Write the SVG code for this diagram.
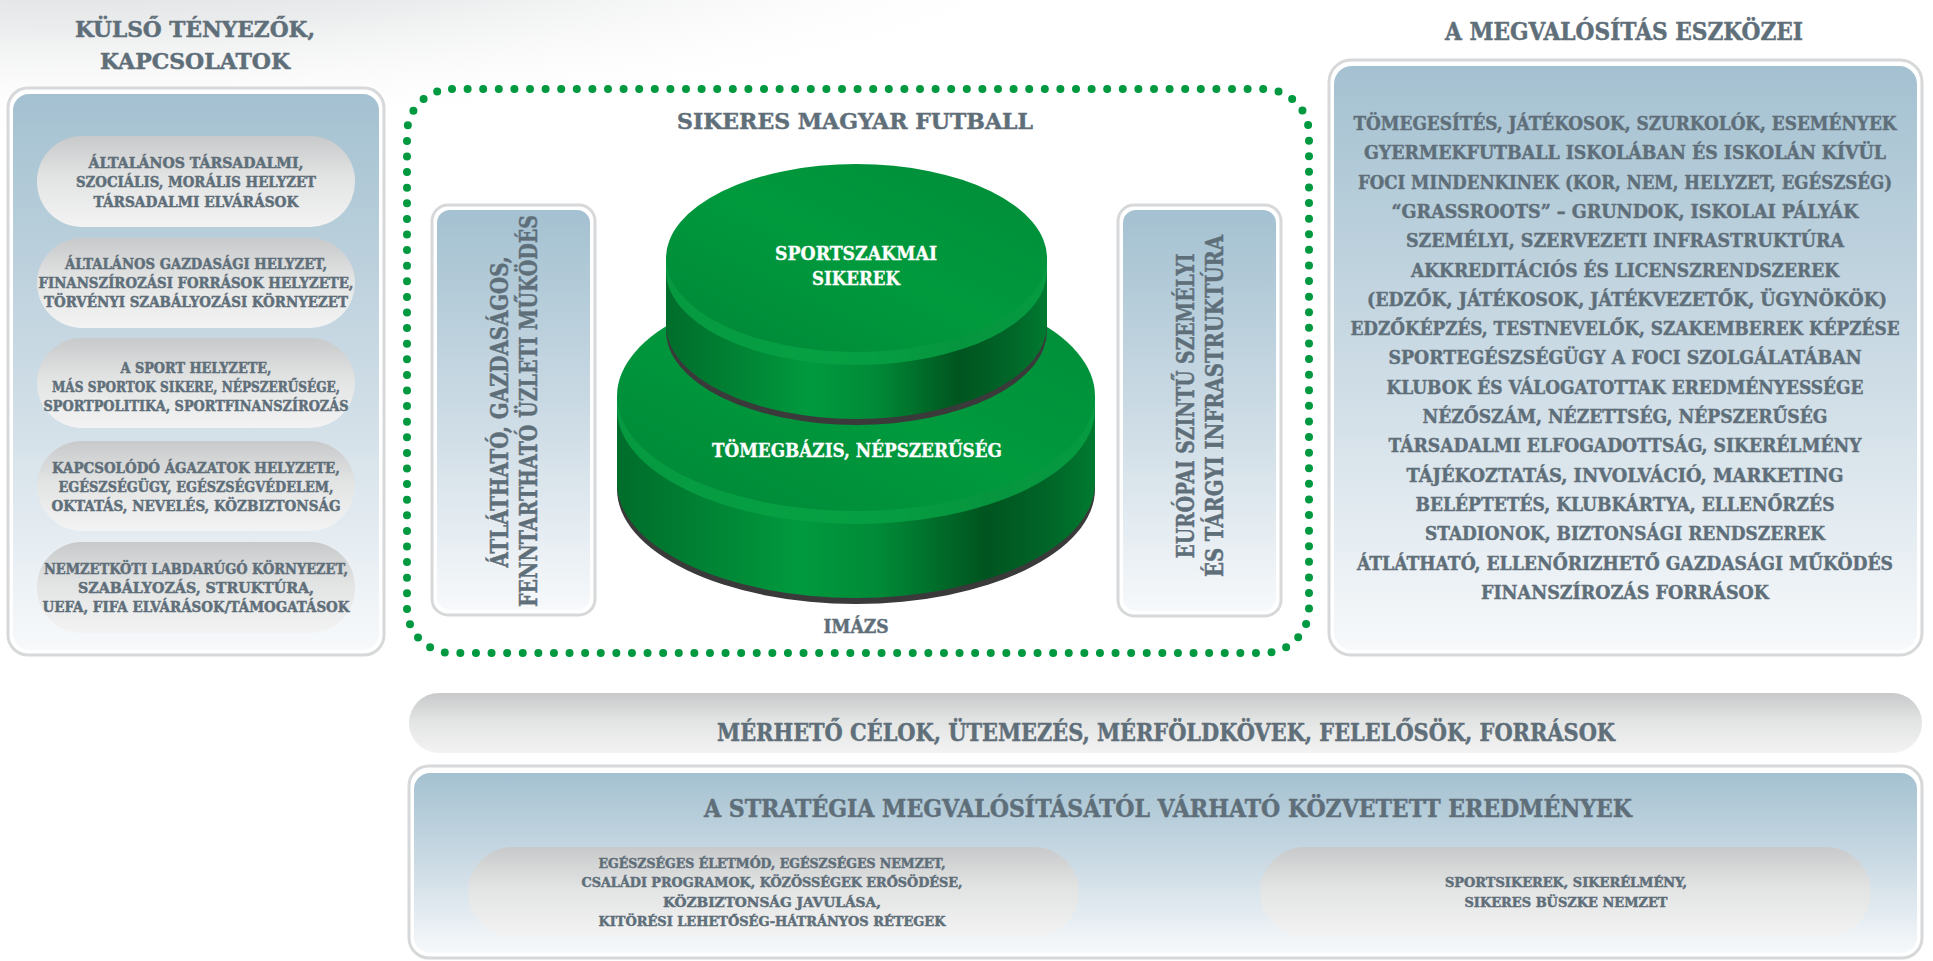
<svg xmlns="http://www.w3.org/2000/svg" width="1933" height="961" viewBox="0 0 1933 961">
<style>
.t{font-family:"DejaVu Serif Condensed","DejaVu Serif","Liberation Serif",serif;font-weight:bold;font-stretch:condensed;fill:#5f6f7a;stroke:#5f6f7a;stroke-width:0.45;text-anchor:middle}
.w{fill:#ffffff;stroke:#ffffff;stroke-width:0.3}
.rim{fill:#ffffff;stroke:#d6d8d9;stroke-width:3}
.panel{fill:url(#gPanel)}
.pill{fill:url(#gPill)}
.shadow{fill:#3a3a3a}
.band{fill:#07a144}
</style>
<defs>
<linearGradient id="gPanel" x1="0" y1="0" x2="0" y2="1">
<stop offset="0" stop-color="#a4c1d1"/>
<stop offset="0.55" stop-color="#cfdde6"/>
<stop offset="1" stop-color="#f7f9fb"/>
</linearGradient>
<linearGradient id="gPill" x1="0" y1="0" x2="0" y2="1">
<stop offset="0" stop-color="#c8c9ca"/>
<stop offset="0.45" stop-color="#e2e3e3"/>
<stop offset="1" stop-color="#f3f3f3"/>
</linearGradient>
<radialGradient id="gHaze" cx="0.3" cy="0.15" r="0.7">
<stop offset="0" stop-color="#c9cccf" stop-opacity="0.9"/>
<stop offset="0.5" stop-color="#dfe1e2" stop-opacity="0.6"/>
<stop offset="1" stop-color="#ffffff" stop-opacity="0"/>
</radialGradient>
<linearGradient id="gTop" x1="0" y1="1" x2="1" y2="0">
<stop offset="0" stop-color="#008637"/>
<stop offset="0.5" stop-color="#009a3d"/>
<stop offset="1" stop-color="#008c39"/>
</linearGradient>
<linearGradient id="gSide1" gradientUnits="userSpaceOnUse" x1="617" y1="0" x2="1095" y2="0">
<stop offset="0" stop-color="#006d2b"/>
<stop offset="0.15" stop-color="#007e32"/>
<stop offset="0.38" stop-color="#009a3e"/>
<stop offset="0.55" stop-color="#008a37"/>
<stop offset="0.77" stop-color="#00541f"/>
<stop offset="0.9" stop-color="#006528"/>
<stop offset="1" stop-color="#007a30"/>
</linearGradient>
<linearGradient id="gSide2" gradientUnits="userSpaceOnUse" x1="666" y1="0" x2="1047" y2="0">
<stop offset="0" stop-color="#006d2b"/>
<stop offset="0.15" stop-color="#007e32"/>
<stop offset="0.38" stop-color="#009a3e"/>
<stop offset="0.55" stop-color="#008a37"/>
<stop offset="0.77" stop-color="#00541f"/>
<stop offset="0.9" stop-color="#006528"/>
<stop offset="1" stop-color="#007a30"/>
</linearGradient>
</defs>

<rect x="0" y="0" width="1933" height="961" fill="#ffffff"/>
<ellipse cx="380" cy="30" rx="760" ry="150" fill="url(#gHaze)"/>

<!-- Left panel: external factors -->
<g id="kulso-tenyezok">
<text class="t" x="195" y="37" font-size="22" textLength="240" lengthAdjust="spacingAndGlyphs">KÜLSŐ TÉNYEZŐK,</text>
<text class="t" x="195" y="69" font-size="22" textLength="190" lengthAdjust="spacingAndGlyphs">KAPCSOLATOK</text>
<rect class="rim" x="8" y="88" width="376" height="567" rx="20"/>
<rect class="panel" x="13" y="94" width="366" height="556" rx="16"/>
</g>
<g id="k1">
<rect class="pill" x="37" y="136" width="318" height="91" rx="45"/>
<text class="t" x="196" y="168" font-size="14" textLength="215" lengthAdjust="spacingAndGlyphs">ÁLTALÁNOS TÁRSADALMI,</text>
<text class="t" x="196" y="187" font-size="14" textLength="240" lengthAdjust="spacingAndGlyphs">SZOCIÁLIS, MORÁLIS HELYZET</text>
<text class="t" x="196" y="207" font-size="14" textLength="205" lengthAdjust="spacingAndGlyphs">TÁRSADALMI ELVÁRÁSOK</text>
</g>
<g id="k2">
<rect class="pill" x="37" y="238" width="318" height="90" rx="45"/>
<text class="t" x="196" y="269" font-size="14" textLength="262" lengthAdjust="spacingAndGlyphs">ÁLTALÁNOS GAZDASÁGI HELYZET,</text>
<text class="t" x="196" y="288" font-size="14" textLength="315" lengthAdjust="spacingAndGlyphs">FINANSZÍROZÁSI FORRÁSOK HELYZETE,</text>
<text class="t" x="196" y="307" font-size="14" textLength="304" lengthAdjust="spacingAndGlyphs">TÖRVÉNYI SZABÁLYOZÁSI KÖRNYEZET</text>
</g>
<g id="k3">
<rect class="pill" x="37" y="338" width="318" height="90" rx="45"/>
<text class="t" x="196" y="373" font-size="14" textLength="151" lengthAdjust="spacingAndGlyphs">A SPORT HELYZETE,</text>
<text class="t" x="196" y="392" font-size="14" textLength="288" lengthAdjust="spacingAndGlyphs">MÁS SPORTOK SIKERE, NÉPSZERŰSÉGE,</text>
<text class="t" x="196" y="411" font-size="14" textLength="305" lengthAdjust="spacingAndGlyphs">SPORTPOLITIKA, SPORTFINANSZÍROZÁS</text>
</g>
<g id="k4">
<rect class="pill" x="37" y="441" width="318" height="90" rx="45"/>
<text class="t" x="196" y="473" font-size="14" textLength="288" lengthAdjust="spacingAndGlyphs">KAPCSOLÓDÓ ÁGAZATOK HELYZETE,</text>
<text class="t" x="196" y="492" font-size="14" textLength="275" lengthAdjust="spacingAndGlyphs">EGÉSZSÉGÜGY, EGÉSZSÉGVÉDELEM,</text>
<text class="t" x="196" y="511" font-size="14" textLength="289" lengthAdjust="spacingAndGlyphs">OKTATÁS, NEVELÉS, KÖZBIZTONSÁG</text>
</g>
<g id="k5">
<rect class="pill" x="37" y="542" width="318" height="91" rx="45"/>
<text class="t" x="196" y="574" font-size="14" textLength="304" lengthAdjust="spacingAndGlyphs">NEMZETKÖTI LABDARÚGÓ KÖRNYEZET,</text>
<text class="t" x="196" y="593" font-size="14" textLength="236" lengthAdjust="spacingAndGlyphs">SZABÁLYOZÁS, STRUKTÚRA,</text>
<text class="t" x="196" y="612" font-size="14" textLength="307" lengthAdjust="spacingAndGlyphs">UEFA, FIFA ELVÁRÁSOK/TÁMOGATÁSOK</text>
</g>

<!-- Center: dotted frame -->
<g id="sikeres-magyar-futball">
<rect x="407" y="89" width="902" height="564" rx="45" fill="none" stroke="#00993f" stroke-width="8" stroke-linecap="round" stroke-dasharray="0 15.6"/>
<text class="t" x="855" y="129" font-size="23" textLength="356" lengthAdjust="spacingAndGlyphs">SIKERES MAGYAR FUTBALL</text>
</g>

<g id="atlathato">
<rect class="rim" x="432" y="205" width="163" height="410" rx="16"/>
<rect class="panel" x="437" y="210" width="153" height="400" rx="13"/>
<text class="t" transform="translate(508,412) rotate(-90)" x="0" y="0" font-size="24" textLength="311" lengthAdjust="spacingAndGlyphs">ÁTLÁTHATÓ, GAZDASÁGOS,</text>
<text class="t" transform="translate(537,411) rotate(-90)" x="0" y="0" font-size="24" textLength="392" lengthAdjust="spacingAndGlyphs">FENNTARTHATÓ ÜZLETI MŰKÖDÉS</text>
</g>

<g id="europai">
<rect class="rim" x="1118" y="205" width="163" height="411" rx="16"/>
<rect class="panel" x="1123" y="210" width="153" height="401" rx="13"/>
<text class="t" transform="translate(1194,406) rotate(-90)" x="0" y="0" font-size="24" textLength="305" lengthAdjust="spacingAndGlyphs">EURÓPAI SZINTŰ SZEMÉLYI</text>
<text class="t" transform="translate(1223,406) rotate(-90)" x="0" y="0" font-size="24" textLength="342" lengthAdjust="spacingAndGlyphs">ÉS TÁRGYI INFRASTRUKTÚRA</text>
</g>

<g id="tomegbazis">
<path class="shadow" d="M617,396 L617,489 A239,115 0 0 0 1095,489 L1095,396 Z"/>
<path fill="url(#gSide1)" d="M617,396 L617,483 A239,115 0 0 0 1095,483 L1095,396 Z"/>
<path class="band" d="M617,396 L617,409 A239,115 0 0 0 1095,409 L1095,396 Z" opacity="0.85"/>
<ellipse cx="856" cy="396" rx="239" ry="115" fill="url(#gTop)"/>
<text class="t w" x="857" y="457" font-size="18" textLength="290" lengthAdjust="spacingAndGlyphs">TÖMEGBÁZIS, NÉPSZERŰSÉG</text>
</g>

<g id="sportszakmai">
<path class="shadow" d="M666,258 L666,331 A190.5,94 0 0 0 1047,331 L1047,258 Z"/>
<path fill="url(#gSide2)" d="M666,258 L666,325 A190.5,94 0 0 0 1047,325 L1047,258 Z"/>
<path class="band" d="M666,258 L666,271 A190.5,94 0 0 0 1047,271 L1047,258 Z" opacity="0.85"/>
<ellipse cx="856.5" cy="258" rx="190.5" ry="94" fill="url(#gTop)"/>
<text class="t w" x="856" y="260" font-size="18" textLength="162" lengthAdjust="spacingAndGlyphs">SPORTSZAKMAI</text>
<text class="t w" x="856" y="285" font-size="18" textLength="88" lengthAdjust="spacingAndGlyphs">SIKEREK</text>
</g>

<g id="imazs">
<text class="t" x="856" y="633" font-size="18" textLength="65" lengthAdjust="spacingAndGlyphs">IMÁZS</text>
</g>

<!-- Right panel -->
<g id="megvalositas-eszkozei">
<text class="t" x="1624" y="40" font-size="24" textLength="358" lengthAdjust="spacingAndGlyphs">A MEGVALÓSÍTÁS ESZKÖZEI</text>
<rect class="rim" x="1329" y="60" width="593" height="595" rx="22"/>
<rect class="panel" x="1334" y="66" width="583" height="584" rx="18"/>
<text class="t" x="1625" y="130" font-size="19" textLength="543" lengthAdjust="spacingAndGlyphs">TÖMEGESÍTÉS, JÁTÉKOSOK, SZURKOLÓK, ESEMÉNYEK</text>
<text class="t" x="1625" y="159.3" font-size="19" textLength="522" lengthAdjust="spacingAndGlyphs">GYERMEKFUTBALL ISKOLÁBAN ÉS ISKOLÁN KÍVÜL</text>
<text class="t" x="1625" y="188.6" font-size="19" textLength="534" lengthAdjust="spacingAndGlyphs">FOCI MINDENKINEK (KOR, NEM, HELYZET, EGÉSZSÉG)</text>
<text class="t" x="1625" y="217.9" font-size="19" textLength="467" lengthAdjust="spacingAndGlyphs">“GRASSROOTS” – GRUNDOK, ISKOLAI PÁLYÁK</text>
<text class="t" x="1625" y="247.2" font-size="19" textLength="438" lengthAdjust="spacingAndGlyphs">SZEMÉLYI, SZERVEZETI INFRASTRUKTÚRA</text>
<text class="t" x="1625" y="276.5" font-size="19" textLength="428" lengthAdjust="spacingAndGlyphs">AKKREDITÁCIÓS ÉS LICENSZRENDSZEREK</text>
<text class="t" x="1627" y="305.8" font-size="19" textLength="520" lengthAdjust="spacingAndGlyphs">(EDZŐK, JÁTÉKOSOK, JÁTÉKVEZETŐK, ÜGYNÖKÖK)</text>
<text class="t" x="1625" y="335.1" font-size="19" textLength="549" lengthAdjust="spacingAndGlyphs">EDZŐKÉPZÉS, TESTNEVELŐK, SZAKEMBEREK KÉPZÉSE</text>
<text class="t" x="1625" y="364.4" font-size="19" textLength="473" lengthAdjust="spacingAndGlyphs">SPORTEGÉSZSÉGÜGY A FOCI SZOLGÁLATÁBAN</text>
<text class="t" x="1625" y="393.7" font-size="19" textLength="477" lengthAdjust="spacingAndGlyphs">KLUBOK ÉS VÁLOGATOTTAK EREDMÉNYESSÉGE</text>
<text class="t" x="1625" y="423" font-size="19" textLength="405" lengthAdjust="spacingAndGlyphs">NÉZŐSZÁM, NÉZETTSÉG, NÉPSZERŰSÉG</text>
<text class="t" x="1625" y="452.3" font-size="19" textLength="473" lengthAdjust="spacingAndGlyphs">TÁRSADALMI ELFOGADOTTSÁG, SIKERÉLMÉNY</text>
<text class="t" x="1625" y="481.6" font-size="19" textLength="437" lengthAdjust="spacingAndGlyphs">TÁJÉKOZTATÁS, INVOLVÁCIÓ, MARKETING</text>
<text class="t" x="1625" y="510.9" font-size="19" textLength="419" lengthAdjust="spacingAndGlyphs">BELÉPTETÉS, KLUBKÁRTYA, ELLENŐRZÉS</text>
<text class="t" x="1625" y="540.2" font-size="19" textLength="400" lengthAdjust="spacingAndGlyphs">STADIONOK, BIZTONSÁGI RENDSZEREK</text>
<text class="t" x="1625" y="569.5" font-size="19" textLength="536" lengthAdjust="spacingAndGlyphs">ÁTLÁTHATÓ, ELLENŐRIZHETŐ GAZDASÁGI MŰKÖDÉS</text>
<text class="t" x="1625" y="598.8" font-size="19" textLength="288" lengthAdjust="spacingAndGlyphs">FINANSZÍROZÁS FORRÁSOK</text>
</g>

<!-- Measurable goals bar -->
<g id="merheto-celok">
<rect class="pill" x="409" y="693" width="1513" height="60" rx="30"/>
<text class="t" x="1166" y="741" font-size="24" textLength="898" lengthAdjust="spacingAndGlyphs">MÉRHETŐ CÉLOK, ÜTEMEZÉS, MÉRFÖLDKÖVEK, FELELŐSÖK, FORRÁSOK</text>
</g>

<!-- Expected indirect results -->
<g id="kozvetett-eredmenyek">
<rect class="rim" x="409" y="766" width="1513" height="192" rx="20"/>
<rect class="panel" x="414" y="773" width="1503" height="180" rx="16"/>
<text class="t" x="1168" y="817" font-size="24" textLength="928" lengthAdjust="spacingAndGlyphs">A STRATÉGIA MEGVALÓSÍTÁSÁTÓL VÁRHATÓ KÖZVETETT EREDMÉNYEK</text>
</g>
<g id="e1">
<rect class="pill" x="468" y="847" width="611" height="90" rx="45"/>
<text class="t" x="772" y="868" font-size="13" textLength="347" lengthAdjust="spacingAndGlyphs">EGÉSZSÉGES ÉLETMÓD, EGÉSZSÉGES NEMZET,</text>
<text class="t" x="772" y="887" font-size="13" textLength="381" lengthAdjust="spacingAndGlyphs">CSALÁDI PROGRAMOK, KÖZÖSSÉGEK ERŐSÖDÉSE,</text>
<text class="t" x="772" y="907" font-size="13" textLength="218" lengthAdjust="spacingAndGlyphs">KÖZBIZTONSÁG JAVULÁSA,</text>
<text class="t" x="772" y="926" font-size="13" textLength="347" lengthAdjust="spacingAndGlyphs">KITÖRÉSI LEHETŐSÉG-HÁTRÁNYOS RÉTEGEK</text>
</g>
<g id="e2">
<rect class="pill" x="1260" y="847" width="611" height="90" rx="45"/>
<text class="t" x="1566" y="887" font-size="13" textLength="242" lengthAdjust="spacingAndGlyphs">SPORTSIKEREK, SIKERÉLMÉNY,</text>
<text class="t" x="1566" y="907" font-size="13" textLength="203" lengthAdjust="spacingAndGlyphs">SIKERES BÜSZKE NEMZET</text>
</g>

<g id="connectors"></g>
</svg>
